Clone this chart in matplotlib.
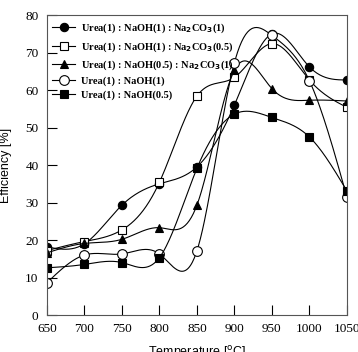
import numpy as np
import matplotlib.pyplot as plt

temp = [650, 700, 750, 800, 850, 900, 950, 1000, 1050]

eff_naoh1_na1 = [18.2, 19.0, 29.3, 35.0, 39.5, 56.0, 75.0, 66.2, 62.7]
eff_naoh1_na05 = [17.2, 19.6, 22.7, 35.4, 58.4, 63.4, 72.4, 62.7, 55.4]
eff_naoh05_na1 = [16.6, 19.1, 20.2, 23.3, 29.3, 65.3, 60.4, 57.3, 57.1]
eff_naoh1 = [8.6, 16.0, 16.3, 16.3, 17.1, 67.3, 74.6, 62.5, 31.5]
eff_naoh05 = [12.6, 13.5, 14.0, 15.3, 39.1, 53.6, 52.7, 47.5, 33.1]

labels = [r'Urea(1) : NaOH(1) : Na$_\mathbf{2}$CO$_\mathbf{3}$(1)',
          r'Urea(1) : NaOH(1) : Na$_\mathbf{2}$CO$_\mathbf{3}$(0.5)',
          r'Urea(1) : NaOH(0.5) : Na$_\mathbf{2}$CO$_\mathbf{3}$(1)',
          'Urea(1) : NaOH(1)',
          'Urea(1) : NaOH(0.5)']


def smooth(x, y, n=300):
    # natural cubic spline through the points, only for drawing the line
    x = np.asarray(x, float)
    y = np.asarray(y, float)
    k = len(x)
    h = np.diff(x)
    A = np.zeros((k, k))
    r = np.zeros(k)
    A[0, 0] = A[-1, -1] = 1
    for i in range(1, k - 1):
        A[i, i - 1] = h[i - 1]
        A[i, i] = 2 * (h[i - 1] + h[i])
        A[i, i + 1] = h[i]
        r[i] = 6 * ((y[i + 1] - y[i]) / h[i] - (y[i] - y[i - 1]) / h[i - 1])
    m = np.linalg.solve(A, r)
    xs = np.linspace(x[0], x[-1], n)
    j = np.clip(np.searchsorted(x, xs) - 1, 0, k - 2)
    t = xs - x[j]
    hj = h[j]
    a = (m[j + 1] - m[j]) / (6 * hj)
    b = m[j] / 2
    c = (y[j + 1] - y[j]) / hj - hj * (2 * m[j] + m[j + 1]) / 6
    return xs, y[j] + c * t + b * t ** 2 + a * t ** 3


plt.rcParams['font.family'] = 'Liberation Serif'

fig = plt.figure(figsize=(3.58, 3.52), dpi=100)
ax = fig.add_axes([0.131, 0.105, 0.838, 0.852])

series = [eff_naoh1_na1, eff_naoh1_na05, eff_naoh05_na1, eff_naoh1, eff_naoh05]
markers = ['o', 's', '^', 'o', 's']
faces = ['k', 'w', 'k', 'w', 'k']
sizes = [6, 6, 6, 7, 6]

for s, mk, fc, ms, lab in zip(series, markers, faces, sizes, labels):
    xs, ys = smooth(temp, s)
    ax.plot(xs, ys, color='k', lw=0.8)
    ax.plot(temp, s, linestyle='none', marker=mk, mfc=fc, mec='k', ms=ms, mew=0.8)
    ax.plot([], [], color='k', lw=0.8, marker=mk, mfc=fc, mec='k', ms=ms, mew=0.8, label=lab)

ax.set_xlim(650, 1050)
ax.set_ylim(0, 80)
ax.set_xticks(range(650, 1051, 50))
ax.set_yticks(range(0, 81, 10))
ax.tick_params(direction='in', length=7, width=0.8, labelsize=9.5, pad=6)
for sp in ax.spines.values():
    sp.set_linewidth(0.8)
    sp.set_color('#555555')

ax.set_xlabel(r'Temperature [$^{\rm o}$C]', fontfamily='Liberation Sans', fontsize=9, labelpad=6)
ax.set_ylabel('Efficiency [%]', fontfamily='Liberation Sans', fontsize=9)
ax.yaxis.set_label_coords(-0.115, 0.5)

leg = ax.legend(loc='upper left', frameon=False, prop={'weight': 'bold', 'size': 7.5},
                handlelength=2.2, handletextpad=0.6, labelspacing=0.45,
                borderaxespad=0.1, bbox_to_anchor=(0.0, 0.995))

fig.savefig('out.png', dpi=100)
